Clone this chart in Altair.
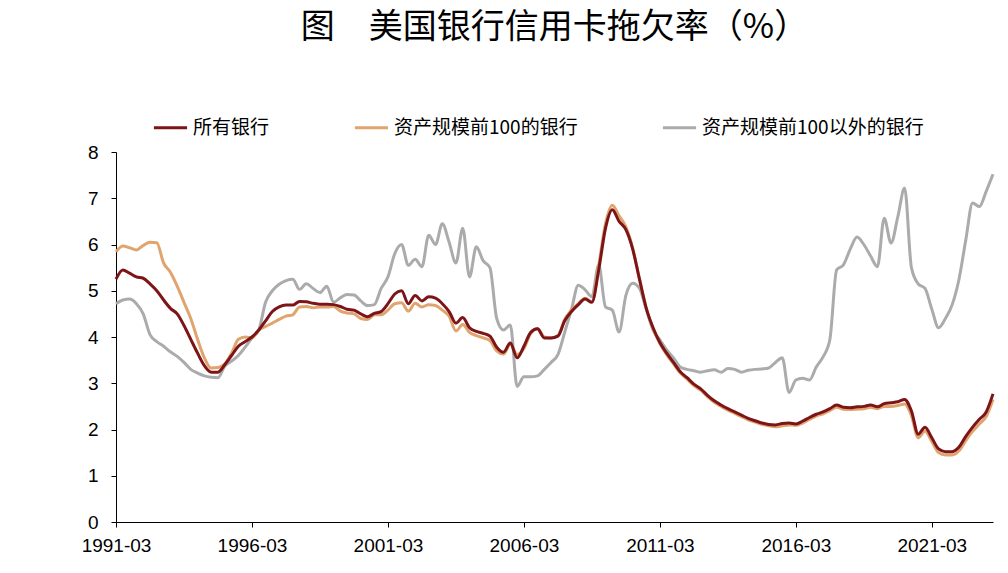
import altair as alt
import pandas as pd

# ---- data (quarterly, 1991-03 .. 2023-06) ----
quarters = [f"{y}-{m:02d}" for y in range(1991, 2024) for m in (3, 6, 9, 12)][:130]
tick_labels = ["1991-03", "1996-03", "2001-03", "2006-03", "2011-03", "2016-03", "2021-03"]
series_names = ["所有银行", "资产规模前100的银行", "资产规模前100以外的银行"]
colors = ["#7D1518", "#E0A46E", "#ABABAB"]

all_banks = [
    5.25, 5.45, 5.38, 5.30, 5.27, 5.15, 5.00, 4.80, 4.62, 4.50,
    4.25, 3.95, 3.65, 3.38, 3.24, 3.24, 3.40, 3.60, 3.80, 3.90,
    4.00, 4.15, 4.35, 4.55, 4.65, 4.69, 4.69, 4.77, 4.76, 4.73,
    4.71, 4.71, 4.70, 4.66, 4.60, 4.58, 4.50, 4.44, 4.51, 4.55,
    4.72, 4.93, 5.00, 4.72, 4.90, 4.78, 4.87, 4.84, 4.72, 4.55,
    4.30, 4.42, 4.20, 4.12, 4.08, 4.02, 3.78, 3.67, 3.87, 3.55,
    3.80, 4.10, 4.18, 3.98, 3.98, 4.02, 4.35, 4.55, 4.70, 4.82,
    4.75, 5.45, 6.35, 6.75, 6.50, 6.32, 5.90, 5.25, 4.62, 4.20,
    3.88, 3.65, 3.45, 3.25, 3.12, 2.98, 2.88, 2.74, 2.62, 2.53,
    2.45, 2.38, 2.31, 2.24, 2.19, 2.14, 2.11, 2.10, 2.13, 2.14,
    2.12, 2.18, 2.26, 2.33, 2.38, 2.45, 2.53, 2.48, 2.47, 2.49,
    2.50, 2.53, 2.49, 2.56, 2.58, 2.60, 2.65, 2.40, 1.90, 2.05,
    1.82, 1.58, 1.52, 1.52, 1.62, 1.85, 2.05, 2.22, 2.38, 2.77,
]
top100 = [
    5.84, 5.97, 5.93, 5.88, 5.98, 6.05, 6.04, 5.60, 5.40, 5.10,
    4.75, 4.40, 3.95, 3.55, 3.33, 3.34, 3.42, 3.65, 3.95, 4.00,
    3.98, 4.15, 4.23, 4.30, 4.38, 4.45, 4.48, 4.65, 4.66, 4.63,
    4.65, 4.65, 4.66, 4.56, 4.52, 4.50, 4.40, 4.38, 4.48, 4.48,
    4.58, 4.72, 4.74, 4.56, 4.73, 4.65, 4.70, 4.68, 4.58, 4.45,
    4.13, 4.27, 4.10, 4.03, 3.98, 3.92, 3.70, 3.63, 3.85, 3.62,
    3.75, 4.08, 4.18, 4.00, 3.98, 4.03, 4.38, 4.58, 4.72, 4.84,
    4.76, 5.55, 6.45, 6.85, 6.62, 6.38, 5.92, 5.25, 4.62, 4.18,
    3.86, 3.62, 3.42, 3.22, 3.09, 2.95, 2.85, 2.71, 2.59, 2.50,
    2.42, 2.35, 2.28, 2.21, 2.16, 2.11, 2.08, 2.06, 2.08, 2.10,
    2.09, 2.14, 2.22, 2.29, 2.34, 2.41, 2.48, 2.44, 2.43, 2.44,
    2.45, 2.48, 2.45, 2.50, 2.50, 2.52, 2.55, 2.30, 1.82, 1.97,
    1.74, 1.50, 1.45, 1.45, 1.54, 1.76, 1.96, 2.12, 2.28, 2.65,
]
others = [
    4.72, 4.80, 4.82, 4.72, 4.50, 4.05, 3.90, 3.80, 3.68, 3.58,
    3.45, 3.30, 3.22, 3.16, 3.13, 3.12, 3.37, 3.48, 3.60, 3.78,
    3.98, 4.15, 4.75, 5.00, 5.14, 5.22, 5.25, 5.03, 5.15, 5.05,
    4.96, 5.10, 4.75, 4.85, 4.92, 4.91, 4.78, 4.68, 4.70, 5.05,
    5.30, 5.80, 6.00, 5.55, 5.68, 5.52, 6.20, 6.00, 6.45, 6.05,
    5.60, 6.35, 5.30, 5.95, 5.65, 5.50, 4.40, 4.15, 4.26, 2.93,
    3.14, 3.14, 3.16, 3.30, 3.45, 3.62, 4.10, 4.60, 5.12, 5.02,
    4.87, 5.56, 4.65, 4.58, 4.11, 4.90, 5.16, 5.05, 4.60, 4.15,
    3.94, 3.72, 3.55, 3.35, 3.30, 3.27, 3.24, 3.27, 3.29, 3.24,
    3.32, 3.30, 3.24, 3.28, 3.30, 3.31, 3.33, 3.45, 3.55, 2.80,
    3.07, 3.11, 3.07, 3.35, 3.57, 3.94, 5.45, 5.56, 5.90, 6.16,
    6.00, 5.75, 5.52, 6.57, 6.03, 6.60, 7.22, 5.50, 5.15, 5.05,
    4.60, 4.20, 4.40, 4.70, 5.25, 6.10, 6.90, 6.82, 7.15, 7.52,
]

rows = []
for name, vals in ((series_names[2], others), (series_names[1], top100), (series_names[0], all_banks)):
    for q, v in zip(quarters, vals):
        rows.append({"季度": q, "系列": name, "拖欠率": v})
df = pd.DataFrame(rows)

chart = alt.Chart(df).mark_line(strokeWidth=3, interpolate="monotone").encode(
    x=alt.X(
        "季度:O",
        sort=quarters,
        scale=alt.Scale(padding=0),
        axis=alt.Axis(
            values=tick_labels, labelAngle=0, title=None, tickSize=5,
            labelPadding=9, labelFontSize=19, labelFont="Liberation Sans",
            labelColor="#000000", domainColor="#000000", tickColor="#000000",
            labelOverlap=False,
        ),
    ),
    y=alt.Y(
        "拖欠率:Q",
        scale=alt.Scale(domain=[0, 8]),
        axis=alt.Axis(
            values=list(range(9)), title=None, grid=False, tickSize=5,
            labelPadding=13, labelFontSize=19, labelFont="Liberation Sans",
            labelColor="#000000", domainColor="#000000", tickColor="#000000",
        ),
    ),
    color=alt.Color(
        "系列:N",
        scale=alt.Scale(domain=series_names, range=colors),
        legend=alt.Legend(
            title=None, orient="none", legendX=36, legendY=-43,
            direction="horizontal", symbolType="stroke", symbolSize=1100,
            symbolStrokeWidth=3, labelFont="Noto Sans CJK SC", labelFontSize=19,
            labelColor="#000000", columnPadding=78, labelOffset=4, labelLimit=0,
        ),
    ),
).properties(
    width=877,
    height=370,
    padding={"left": 108, "top": 144, "right": 5, "bottom": 45},
    autosize=alt.AutoSizeParams(type="none"),
    title=alt.TitleParams(
        "图　美国银行信用卡拖欠率（%）", font="Noto Sans CJK SC", fontSize=34,
        fontWeight="normal", color="#000000", anchor="middle", offset=64,
        limit=0,
    ),
).configure_view(stroke=None)

chart.save("out.html", embed_options={"renderer": "svg", "actions": False})
